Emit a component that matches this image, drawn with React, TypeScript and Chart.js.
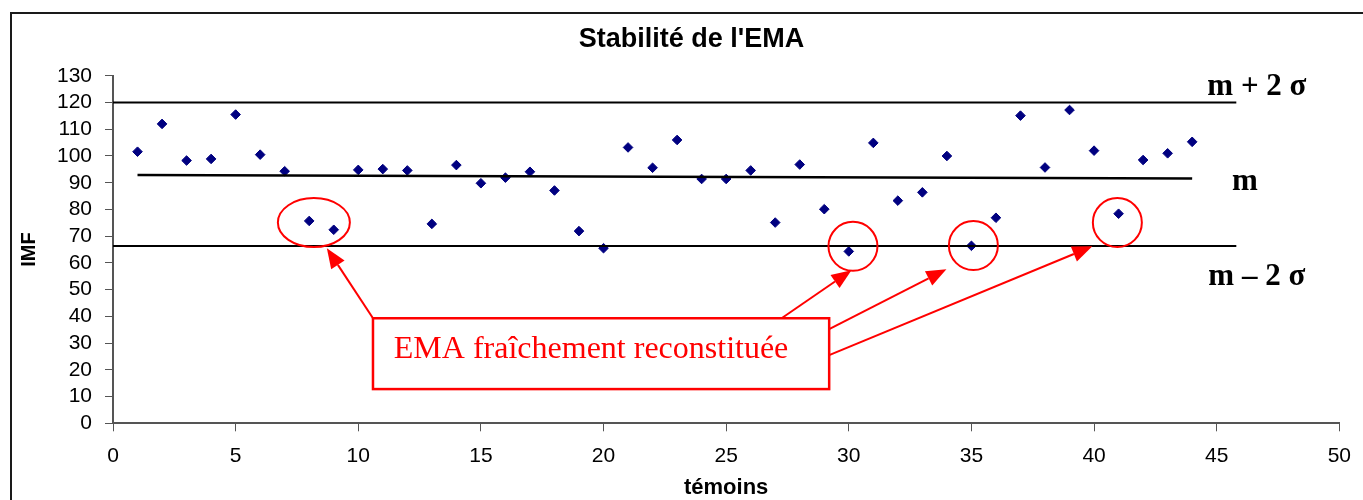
import React, { useEffect, useRef } from "react";
import { Chart, registerables } from "chart.js";

Chart.register(...registerables);

// ---- data ----
const TEMOINS = [
  1, 2, 3, 4, 5, 6, 7, 8, 9, 10, 11, 12, 13, 14, 15, 16, 17, 18, 19, 20, 21, 22,
  23, 24, 25, 26, 27, 28, 29, 30, 31, 32, 33, 34, 35, 36, 37, 38, 39, 40, 41, 42, 43, 44,
];
const IMF = [
  101.6, 112.0, 98.3, 98.9, 115.5, 100.5, 94.3, 75.7, 72.4, 94.8, 95.1, 94.6, 74.6, 96.6,
  89.8, 91.9, 94.1, 87.1, 71.9, 65.5, 103.2, 95.6, 106.0, 91.4, 91.4, 94.6, 75.1, 96.8,
  80.1, 64.3, 104.9, 83.3, 86.4, 100.0, 66.4, 76.9, 115.1, 95.7, 117.2, 102.0, 78.4,
  98.5, 101.0, 105.3,
];
const LIMIT_X = [0, 45.8];
const UPPER_LIMIT = 120; // m + 2 sigma
const LOWER_LIMIT = 66.3; // m - 2 sigma
const MEAN_X = [1, 44];
const MEAN_Y = [92.9, 91.6];
const X_MIN = 0;
const X_MAX = 50;
const X_STEP = 5;
const Y_MIN = 0;
const Y_MAX = 130;
const Y_STEP = 10;

const TITLE = "Stabilité de l'EMA";
const X_TITLE = "témoins";
const Y_TITLE = "IMF";
const LINE_LABELS = ["m + 2 σ", "m", "m – 2 σ"];
const CALLOUT_TEXT = "EMA fraîchement reconstituée";

// ---- annotation geometry (data units) ----
const LABEL_POS = [
  { x: 44.62, y: 123.0 },
  { x: 45.62, y: 87.2 },
  { x: 44.66, y: 51.7 },
];
const ELLIPSES = [
  { x: 8.19, y: 75.1, rx: 36, ry: 24.5 },
  { x: 30.17, y: 66.2, rx: 24.5, ry: 24.5 },
  { x: 35.08, y: 66.5, rx: 24.5, ry: 24.5 },
  { x: 40.95, y: 75.1, rx: 24.5, ry: 24.5 },
];
const BOX = { x1: 10.6, y1: 39.3, x2: 29.2, y2: 12.8, tx: 11.45, ty: 24.4 };
const ARROWS = [
  { x1: 10.6, y1: 39.3, x2: 8.72, y2: 65.5 },
  { x1: 27.26, y1: 39.3, x2: 30.11, y2: 57.3 },
  { x1: 29.2, y1: 35.2, x2: 33.98, y2: 57.6 },
  { x1: 29.2, y1: 25.5, x2: 39.93, y2: 66.2 },
];

const SANS = "'Liberation Sans', Arial, sans-serif";
const SERIF = "'Liberation Serif', 'Times New Roman', serif";

const decorPlugin = {
  id: "decor",
  beforeDraw(chart: any) {
    const ctx = chart.ctx;
    ctx.save();
    ctx.fillStyle = "#ffffff";
    ctx.fillRect(0, 0, chart.width, chart.height);
    ctx.strokeStyle = "#1a1a1a";
    ctx.lineWidth = 2;
    ctx.strokeRect(11, 13, chart.width + 20, chart.height + 20);
    // title
    ctx.fillStyle = "#000";
    ctx.font = `bold 27px ${SANS}`;
    ctx.textAlign = "center";
    ctx.textBaseline = "alphabetic";
    ctx.fillText(TITLE, (chart.width + 20) / 2, 47);
    ctx.restore();
  },
  afterDatasetsDraw(chart: any) {
    const ctx = chart.ctx;
    const xs = chart.scales.x;
    const ys = chart.scales.y;
    const X = (v: number) => xs.getPixelForValue(v);
    const Y = (v: number) => ys.getPixelForValue(v);
    ctx.save();

    // line labels
    ctx.fillStyle = "#000";
    ctx.font = `bold 31px ${SERIF}`;
    ctx.textAlign = "left";
    ctx.textBaseline = "alphabetic";
    LINE_LABELS.forEach((t, i) => {
      ctx.fillText(t, X(LABEL_POS[i].x), Y(LABEL_POS[i].y));
    });

    // ellipses
    ctx.strokeStyle = "#ff0000";
    ctx.fillStyle = "#ff0000";
    ctx.lineWidth = 2;
    ELLIPSES.forEach((e) => {
      ctx.beginPath();
      ctx.ellipse(X(e.x), Y(e.y), e.rx, e.ry, 0, 0, Math.PI * 2);
      ctx.stroke();
    });

    // arrows
    ARROWS.forEach((a) => {
      const x1 = X(a.x1), y1 = Y(a.y1), x2 = X(a.x2), y2 = Y(a.y2);
      const ang = Math.atan2(y2 - y1, x2 - x1);
      const L = 20, W = 8;
      const bx = x2 - L * Math.cos(ang);
      const by = y2 - L * Math.sin(ang);
      ctx.beginPath();
      ctx.moveTo(x1, y1);
      ctx.lineTo(bx, by);
      ctx.stroke();
      ctx.beginPath();
      ctx.moveTo(x2, y2);
      ctx.lineTo(bx + W * Math.sin(ang), by - W * Math.cos(ang));
      ctx.lineTo(bx - W * Math.sin(ang), by + W * Math.cos(ang));
      ctx.closePath();
      ctx.fill();
    });

    // callout box
    const bx1 = X(BOX.x1), by1 = Y(BOX.y1), bx2 = X(BOX.x2), by2 = Y(BOX.y2);
    ctx.fillStyle = "#ffffff";
    ctx.fillRect(bx1, by1, bx2 - bx1, by2 - by1);
    ctx.lineWidth = 2.5;
    ctx.strokeRect(bx1, by1, bx2 - bx1, by2 - by1);
    ctx.fillStyle = "#ff0000";
    ctx.font = `32px ${SERIF}`;
    ctx.fillText(CALLOUT_TEXT, X(BOX.tx), Y(BOX.ty));

    ctx.restore();
  },
};

export default function App() {
  const ref = useRef<HTMLCanvasElement | null>(null);

  useEffect(() => {
    if (!ref.current) return;
    const points = TEMOINS.map((t, i) => ({ x: t, y: IMF[i] }));
    const upper = LIMIT_X.map((x) => ({ x, y: UPPER_LIMIT }));
    const lower = LIMIT_X.map((x) => ({ x, y: LOWER_LIMIT }));
    const mean = MEAN_X.map((x, i) => ({ x, y: MEAN_Y[i] }));

    const chart = new Chart(ref.current, {
      type: "scatter",
      data: {
        datasets: [
          {
            label: "m + 2σ",
            data: upper,
            showLine: true,
            borderColor: "#000",
            borderWidth: 2,
            pointRadius: 0,
          },
          {
            label: "m",
            data: mean,
            showLine: true,
            borderColor: "#000",
            borderWidth: 2.5,
            pointRadius: 0,
          },
          {
            label: "m − 2σ",
            data: lower,
            showLine: true,
            borderColor: "#000",
            borderWidth: 2,
            pointRadius: 0,
          },
          {
            label: "IMF",
            data: points,
            pointStyle: "rectRot",
            pointRadius: 4.8,
            backgroundColor: "#000080",
            borderColor: "#000080",
            borderWidth: 1,
          },
        ],
      },
      options: {
        responsive: false,
        animation: false,
        devicePixelRatio: 1,
        layout: { padding: { left: 10, right: 23, top: 75.8, bottom: 0 } },
        plugins: {
          legend: { display: false },
          tooltip: { enabled: false },
          title: { display: false },
        },
        scales: {
          x: {
            type: "linear",
            min: X_MIN,
            max: X_MAX,
            afterBuildTicks: (scale: any) => {
              const t = [];
              for (let v = X_MIN; v <= X_MAX; v += X_STEP) t.push({ value: v });
              scale.ticks = t;
            },
            afterFit: (scale: any) => {
              scale.height = 76.7;
            },
            grid: {
              drawOnChartArea: false,
              drawTicks: true,
              tickLength: 8,
              tickColor: "#555",
            },
            border: { display: true, color: "#555", width: 2 },
            ticks: {
              color: "#000",
              padding: 12,
              maxRotation: 0,
              autoSkip: false,
              font: { family: SANS, size: 21 },
            },
            title: {
              display: true,
              text: X_TITLE,
              color: "#000",
              font: { family: SANS, size: 22, weight: "bold", lineHeight: 1 },
              padding: { top: 0, bottom: 1 },
            },
          },
          y: {
            type: "linear",
            min: Y_MIN,
            max: Y_MAX,
            afterBuildTicks: (scale: any) => {
              const t = [];
              for (let v = Y_MIN; v <= Y_MAX; v += Y_STEP) t.push({ value: v });
              scale.ticks = t;
            },
            afterFit: (scale: any) => {
              scale.width = 103;
            },
            grid: {
              drawOnChartArea: false,
              drawTicks: true,
              tickLength: 8,
              tickColor: "#555",
            },
            border: { display: true, color: "#555", width: 2 },
            ticks: {
              color: "#000",
              padding: 13,
              autoSkip: false,
              font: { family: SANS, size: 21 },
            },
            title: {
              display: true,
              text: Y_TITLE,
              color: "#000",
              font: { family: SANS, size: 20, weight: "bold", lineHeight: 1.2 },
              padding: { top: 7, bottom: 0 },
            },
          },
        },
      },
      plugins: [decorPlugin],
    });
    return () => chart.destroy();
  }, []);

  return (
    <div style={{ position: "fixed", left: 0, top: 0, width: 1363, height: 500, background: "#fff" }}>
      <canvas ref={ref} width={1363} height={500} style={{ display: "block" }} />
    </div>
  );
}
